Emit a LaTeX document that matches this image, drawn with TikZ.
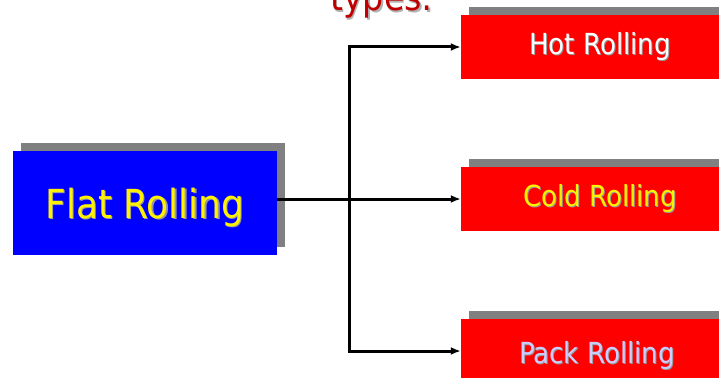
\documentclass[tikz,border=0pt]{standalone}
\usepackage{fontspec}
\setmainfont{DejaVu Sans Condensed}
\usetikzlibrary{arrows.meta,shadows}
\definecolor{titlered}{HTML}{C00000}
\definecolor{packtext}{HTML}{CCCCFF}
\definecolor{boxshadow}{HTML}{808080}
\tikzset{
  box/.style={draw=none, inner sep=0pt,
    drop shadow={shadow xshift=8pt, shadow yshift=8pt, fill=boxshadow, opacity=1}},
  mainbox/.style={box, fill=blue, minimum width=264pt, minimum height=104pt},
  typebox/.style={box, fill=red, minimum width=278pt, minimum height=64pt},
  bigtext/.style={inner sep=0pt, font=\fontsize{40}{46}\selectfont},
  smalltext/.style={inner sep=0pt, font=\fontsize{29}{34}\selectfont},
  txtshadow/.style={text=black!40},
  link/.style={line width=3pt, line join=miter},
  tolink/.style={link, -{Latex[length=10pt, width=8pt]}}
}
\begin{document}
\begin{tikzpicture}[x=1pt, y=-1pt]
  \useasboundingbox (0,0) rectangle (719,377);
  \clip (0,0) rectangle (719,377);

  % heading fragment
  \node[anchor=base west, inner sep=0pt, text=black!30, font=\fontsize{37}{42}\selectfont]
    (titleshade) at (331.5,12.5) {types:};
  \node[anchor=base west, inner sep=0pt, text=titlered, font=\fontsize{37}{42}\selectfont]
    (title) at (330,11) {types:};

  % boxes
  \node[mainbox] (flat) at (145,203) {};
  \node[typebox] (hot)  at (600,47)  {};
  \node[typebox] (cold) at (600,199) {};
  \node[typebox] (pack) at (600,351) {};

  % labels with a light text shadow
  \node[bigtext, txtshadow] (flatS) at ([shift={(1.2,5.2)}]flat.center) {Flat Rolling};
  \node[bigtext, text=yellow] (flatT) at ([shift={(0,4)}]flat.center) {Flat Rolling};
  \node[smalltext, txtshadow] (hotS) at ([shift={(1,1)}]hot.center) {Hot Rolling};
  \node[smalltext, text=white] (hotT) at (hot.center) {Hot Rolling};
  \node[smalltext, txtshadow] (coldS) at ([shift={(1,0)}]cold.center) {Cold Rolling};
  \node[smalltext, text=yellow] (coldT) at ([shift={(0,-1)}]cold.center) {Cold Rolling};
  \node[smalltext, txtshadow] (packS) at ([shift={(-2,5)}]pack.center) {Pack Rolling};
  \node[smalltext, text=packtext] (packT) at ([shift={(-3,4)}]pack.center) {Pack Rolling};

  % branching connector
  \coordinate (split) at (349,199);
  \draw[link] (split -| flat.east) -- (split);
  \draw[tolink] (split) |- (hot.west);
  \draw[tolink] (split) -- (cold.west);
  \draw[tolink] (split) |- (pack.west);
\end{tikzpicture}
\end{document}
